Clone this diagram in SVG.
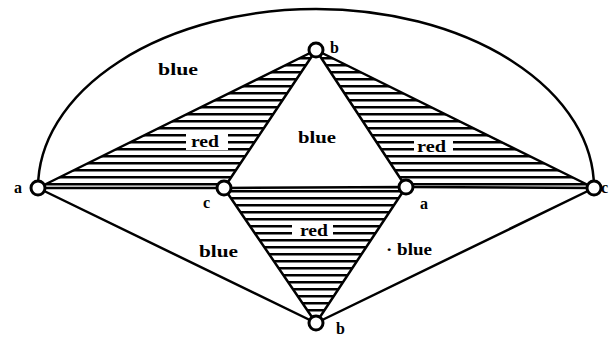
<svg xmlns="http://www.w3.org/2000/svg" width="609" height="340" viewBox="0 0 609 340">
<style>
.t{font-family:"Liberation Serif","DejaVu Serif",serif;font-weight:bold;font-size:17px;fill:#000}
.n{font-family:"Liberation Serif","DejaVu Serif",serif;font-weight:bold;font-size:16px;fill:#000}
.e{stroke:#000;stroke-width:2.5;fill:none;stroke-linejoin:round}
.v{fill:#fff;stroke:#000;stroke-width:3}
</style>
<defs>
<pattern id="hatch" patternUnits="userSpaceOnUse" x="0" y="0" width="609" height="7">
<rect x="0" y="1" width="609" height="2.5" fill="#000"/>
</pattern>
</defs>
<rect width="609" height="340" fill="#fff"/>
<g id="faces">
<polygon points="38,188 316,50 224,188" fill="url(#hatch)"/>
<polygon points="316,50 406,187 594,188" fill="url(#hatch)"/>
<polygon points="224,188 406,187 316,323" fill="url(#hatch)"/>
<rect x="186" y="133" width="42" height="17" fill="#fff"/>
<rect x="414" y="137" width="39" height="18" fill="#fff"/>
<rect x="292" y="221" width="41" height="18" fill="#fff"/>
</g>
<g id="connectors">
<path class="e" d="M38,188 A278,179 0 0 1 594,188"/>
<path class="e" d="M38,188 L316,50 L224,188 Z"/>
<path class="e" d="M316,50 L406,187 L594,188 Z"/>
<path class="e" d="M224,188 L406,187 L316,323 Z"/>
<path class="e" d="M38,188 L316,323 L594,188"/>
</g>
<g id="labels">
<text class="t" x="158" y="75" textLength="40" lengthAdjust="spacingAndGlyphs">blue</text>
<text class="t" x="191" y="147" textLength="28" lengthAdjust="spacingAndGlyphs">red</text>
<text class="t" x="298" y="143" textLength="38" lengthAdjust="spacingAndGlyphs">blue</text>
<text class="t" x="417" y="152" textLength="29" lengthAdjust="spacingAndGlyphs">red</text>
<text class="t" x="300" y="236" textLength="28" lengthAdjust="spacingAndGlyphs">red</text>
<text class="t" x="199" y="257" textLength="39" lengthAdjust="spacingAndGlyphs">blue</text>
<text class="t" x="386" y="255" textLength="46" lengthAdjust="spacingAndGlyphs">· blue</text>
</g>
<g id="node-a-left"><circle class="v" cx="38" cy="188" r="7"/><text class="n" x="14" y="193">a</text></g>
<g id="node-b-top"><circle class="v" cx="316" cy="50" r="7"/><text class="n" x="330" y="53">b</text></g>
<g id="node-c-mid"><circle class="v" cx="224" cy="188" r="7"/><text class="n" x="203" y="208">c</text></g>
<g id="node-a-mid"><circle class="v" cx="406" cy="187" r="7"/><text class="n" x="420" y="209">a</text></g>
<g id="node-c-right"><circle class="v" cx="594" cy="188" r="7"/><text class="n" x="601" y="193">c</text></g>
<g id="node-b-bottom"><circle class="v" cx="316" cy="323" r="7"/><text class="n" x="336" y="334">b</text></g>
</svg>
